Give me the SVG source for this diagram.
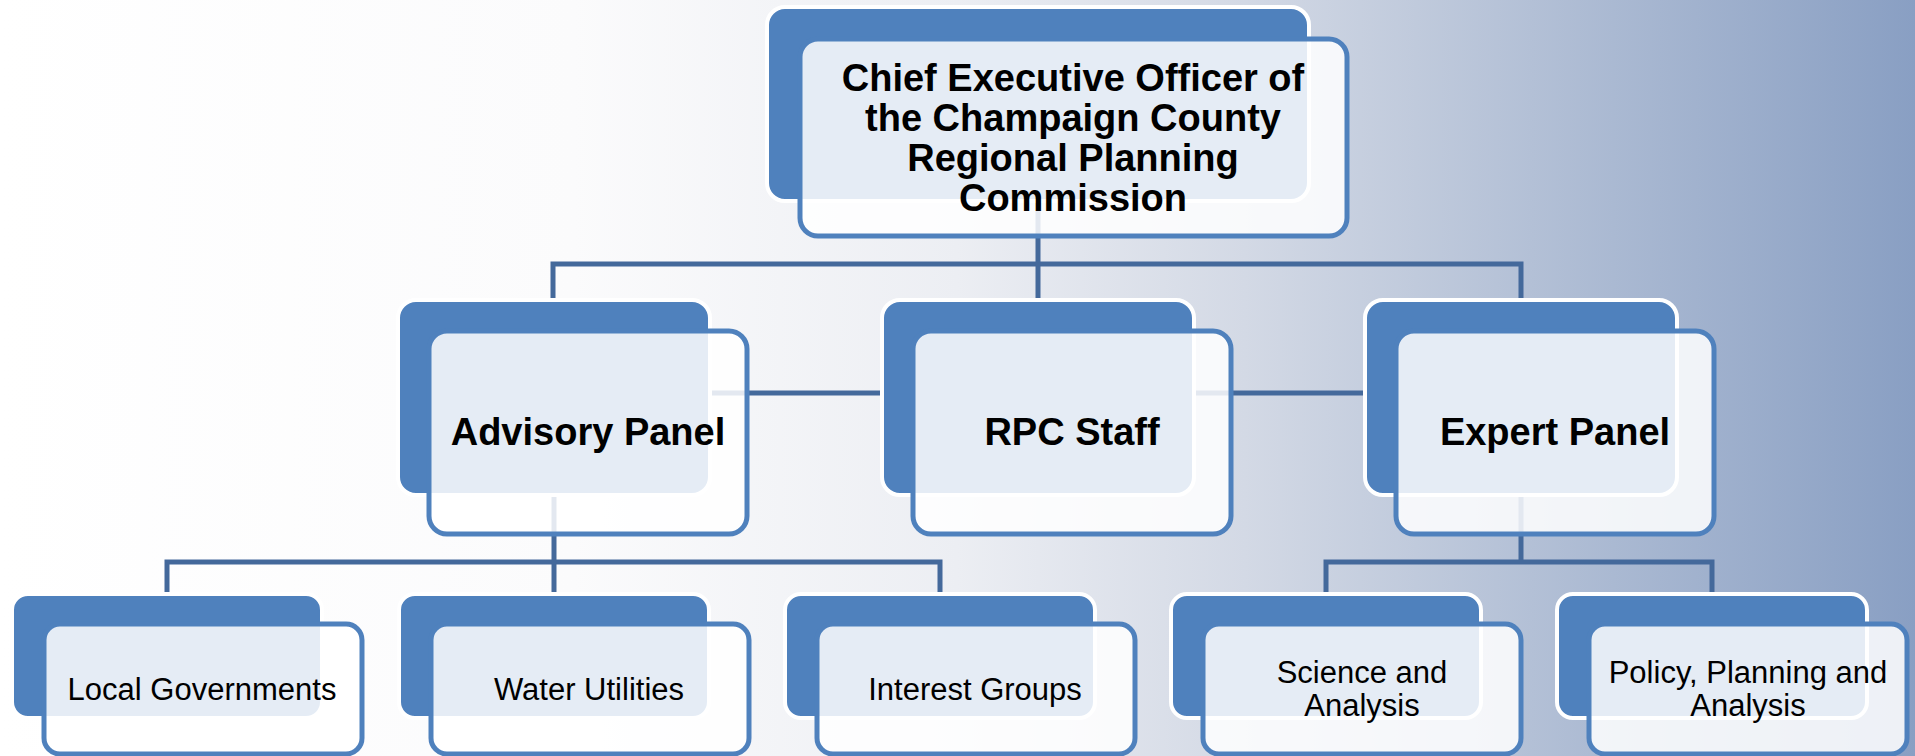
<svg xmlns="http://www.w3.org/2000/svg" width="1915" height="756" viewBox="0 0 1915 756">
<defs>
<linearGradient id="bg" x1="0" y1="0" x2="1" y2="0">
<stop offset="0" stop-color="#ffffff"/>
<stop offset="0.3" stop-color="#fbfbfc"/>
<stop offset="0.5" stop-color="#eceef3"/>
<stop offset="0.65" stop-color="#d3d9e5"/>
<stop offset="0.8" stop-color="#b3c0d6"/>
<stop offset="1" stop-color="#899fc3"/>
</linearGradient>
<style>
.back{fill:#4f81bd;stroke:#ffffff;stroke-width:4}
.front{fill:#ffffff;fill-opacity:0.85;stroke:#4f81bd;stroke-width:5}
.conn{fill:none;stroke:#44699b;stroke-width:5}
.t2{font-family:"Liberation Sans",Arial,sans-serif;font-weight:bold;font-size:38px;fill:#000;text-anchor:middle}
.t3{font-family:"Liberation Sans",Arial,sans-serif;font-size:31px;fill:#000;text-anchor:middle}
</style>
</defs>
<rect x="0" y="0" width="1915" height="756" fill="url(#bg)"/>
<g id="connectors">
<path class="conn" d="M553 300 V264 H1521 V300"/>
<path class="conn" d="M1038 201 V300"/>
<path class="conn" d="M705 393 H885"/>
<path class="conn" d="M1190 393 H1368"/>
<path class="conn" d="M554 495 V562"/>
<path class="conn" d="M167 594 V562 H940 V594"/>
<path class="conn" d="M554 562 V594"/>
<path class="conn" d="M1521 495 V562"/>
<path class="conn" d="M1326 594 V562 H1712 V594"/>
</g>
<g id="ceo">
<rect class="back" x="767" y="7" width="542" height="194" rx="18"/>
<rect class="front" x="800" y="39" width="547" height="197" rx="18"/>
<text class="t2"><tspan x="1073" y="91">Chief Executive Officer of</tspan><tspan x="1073" y="131">the Champaign County</tspan><tspan x="1073" y="171">Regional Planning</tspan><tspan x="1073" y="211">Commission</tspan></text>
</g>
<g id="advisory">
<rect class="back" x="398" y="300" width="312" height="195" rx="18"/>
<rect class="front" x="429" y="331" width="318" height="203" rx="18"/>
<text class="t2" x="588" y="445">Advisory Panel</text>
</g>
<g id="rpc">
<rect class="back" x="882" y="300" width="312" height="195" rx="18"/>
<rect class="front" x="913" y="331" width="318" height="203" rx="18"/>
<text class="t2" x="1072" y="445">RPC Staff</text>
</g>
<g id="expert">
<rect class="back" x="1365" y="300" width="312" height="195" rx="18"/>
<rect class="front" x="1396" y="331" width="318" height="203" rx="18"/>
<text class="t2" x="1555" y="445">Expert Panel</text>
</g>
<g id="local">
<rect class="back" x="12" y="594" width="310" height="124" rx="16"/>
<rect class="front" x="44" y="624" width="318" height="130" rx="16"/>
<text class="t3" x="202" y="700">Local Governments</text>
</g>
<g id="water">
<rect class="back" x="399" y="594" width="310" height="124" rx="16"/>
<rect class="front" x="431" y="624" width="318" height="130" rx="16"/>
<text class="t3" x="589" y="700">Water Utilities</text>
</g>
<g id="interest">
<rect class="back" x="785" y="594" width="310" height="124" rx="16"/>
<rect class="front" x="817" y="624" width="318" height="130" rx="16"/>
<text class="t3" x="975" y="700">Interest Groups</text>
</g>
<g id="science">
<rect class="back" x="1171" y="594" width="310" height="124" rx="16"/>
<rect class="front" x="1203" y="624" width="318" height="130" rx="16"/>
<text class="t3"><tspan x="1362" y="683">Science and</tspan><tspan x="1362" y="716">Analysis</tspan></text>
</g>
<g id="policy">
<rect class="back" x="1557" y="594" width="310" height="124" rx="16"/>
<rect class="front" x="1589" y="624" width="318" height="130" rx="16"/>
<text class="t3"><tspan x="1748" y="683">Policy, Planning and</tspan><tspan x="1748" y="716">Analysis</tspan></text>
</g>
</svg>
